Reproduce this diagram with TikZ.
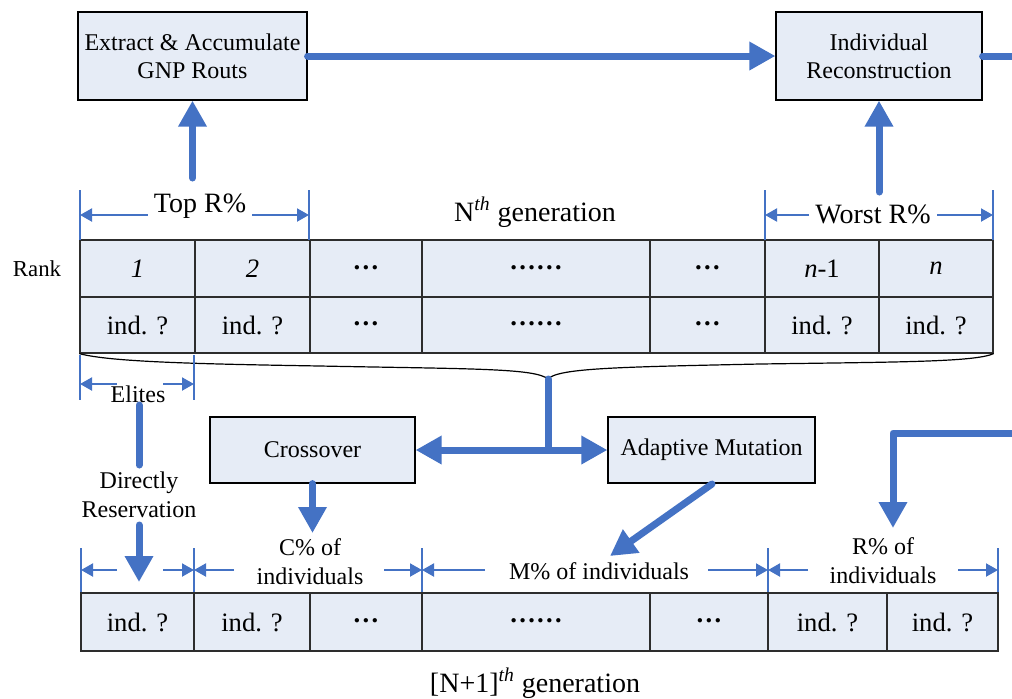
\documentclass[tikz,border=0pt]{standalone}
\usepackage{fontspec}
\setmainfont{Liberation Serif}
\usetikzlibrary{arrows.meta}
\definecolor{flowblue}{RGB}{68,114,196}
\definecolor{cellfill}{RGB}{230,236,246}
\definecolor{gridline}{RGB}{45,45,45}

% one table cell: name, x1, x2, y1, y2, content
\newcommand\tabcell[6]{%
  \node[cellbox, minimum width={(#3-#2)*0.5pt}, minimum height={(#5-#4)*0.5pt}]
    (#1) at ({(#2+#3)/2},{(#4+#5)/2}) {#6};}
% centred heavy dots
\newcommand\hdots[1]{\vphantom{d}\raisebox{0.31em}{\textbf{#1}}}

\begin{document}
\begin{tikzpicture}[x=0.5pt,y=-0.5pt,
  procbox/.style={draw=black, line width=0.6pt, fill=cellfill, inner sep=0pt,
    align=center, font=\fontsize{12}{14}\selectfont},
  cellbox/.style={draw=gridline, line width=0.6pt, fill=cellfill, inner sep=0pt,
    font=\fontsize{13.3}{15}\selectfont},
  bigflow/.style={draw=flowblue, line width=3.5pt, line cap=round, line join=round,
    -{Triangle[length=13pt,width=13.5pt]}},
  bigline/.style={draw=flowblue, line width=3.5pt, line cap=round},
  dimarrow/.style={draw=flowblue, line width=1pt, -{Triangle[length=6pt,width=6.5pt]}},
  dimtick/.style={draw=flowblue, line width=1pt},
  txtsmall/.style={inner sep=1pt, align=center, font=\fontsize{12}{14.5}\selectfont},
  txtbig/.style={inner sep=1pt, align=center, font=\fontsize{14}{16}\selectfont},
]
\useasboundingbox (0,0) rectangle (1012,698);

% ---------- process boxes ----------
\node[procbox, minimum width=114.5pt, minimum height=44pt] (extract) at (192.5,56)
  {Extract \& Accumulate\\GNP Routs};
\node[procbox, minimum width=103pt, minimum height=44pt] (recon) at (879,56)
  {Individual\\Reconstruction};
\node[procbox, minimum width=102.5pt, minimum height=33pt] (cross) at (312.5,450) {Crossover};
\node[procbox, minimum width=103.5pt, minimum height=33pt] (mutate) at (711.5,450) {Adaptive Mutation};

% ---------- N-th generation table ----------
\node[inner sep=1pt, font=\fontsize{11.4}{13}\selectfont, anchor=base] (rank) at (37,276) {Rank};
\tabcell{a1}{80}{195}{240}{297}{\textit{1}}
\tabcell{a2}{195}{310}{240}{297}{\textit{2}}
\tabcell{a3}{310}{422}{240}{297}{\hdots{…}}
\tabcell{a4}{422}{650}{240}{297}{\hdots{……}}
\tabcell{a5}{650}{765}{240}{297}{\hdots{…}}
\tabcell{a6}{765}{879}{240}{297}{\textit{n}-1}
\tabcell{a7}{879}{993}{240}{297}{\textit{n}}
\tabcell{b1}{80}{195}{297}{353}{ind. ?}
\tabcell{b2}{195}{310}{297}{353}{ind. ?}
\tabcell{b3}{310}{422}{297}{353}{\hdots{…}}
\tabcell{b4}{422}{650}{297}{353}{\hdots{……}}
\tabcell{b5}{650}{765}{297}{353}{\hdots{…}}
\tabcell{b6}{765}{879}{297}{353}{ind. ?}
\tabcell{b7}{879}{993}{297}{353}{ind. ?}

\node[txtbig, anchor=base] (gen) at (535,221) {N\textsuperscript{\textit{th}} generation};

% Top R% span
\coordinate (topL) at (80,215);
\coordinate (topR) at (309,215);
\draw[dimtick] (80,190) -- (80,240);
\draw[dimtick] (309,190) -- (309,240);
\node[txtbig, anchor=base, inner xsep=3pt] (toplbl) at (200,212) {Top R\%};
\draw[dimarrow] (toplbl.west |- topL) -- (topL);
\draw[dimarrow] (toplbl.east |- topR) -- (topR);

% Worst R% span
\coordinate (worL) at (765,215);
\coordinate (worR) at (993,215);
\draw[dimtick] (765,190) -- (765,240);
\draw[dimtick] (993,190) -- (993,240);
\node[txtbig, anchor=base, inner xsep=3pt] (worlbl) at (873,223) {Worst R\%};
\draw[dimarrow] (worlbl.west |- worL) -- (worL);
\draw[dimarrow] (worlbl.east |- worR) -- (worR);

% flows up to the top boxes
\coordinate (topStart) at (192.5,178);
\coordinate (worStart) at (879,192);
\draw[bigflow] (topStart) -- (extract.south);
\draw[bigflow] (worStart) -- (recon.south);
\draw[bigflow] (extract.east) -- (recon.west);
\coordinate (exitR) at (1020,56);
\draw[bigline] (recon.east) -- (exitR);

% brace under the whole generation
\coordinate (braceTip) at (548,379);
\draw[line width=0.6pt, black]
  (b1.south west) .. controls (110,362) and (200,364) .. (320,366)
  .. controls (470,369) and (535,368) .. (braceTip)
  .. controls (558,368) and (620,367) .. (760,364)
  .. controls (900,362) and (975,362) .. (b7.south east);

% split to crossover and mutation
\coordinate (split) at (548,450);
\draw[bigline] (braceTip) -- (split);
\draw[bigflow] (split) -- (cross.east);
\draw[bigflow] (split) -- (mutate.west);

% elites span
\coordinate (elL) at (80,384);
\coordinate (elR) at (194,384);
\coordinate (elLs) at (117,384);
\coordinate (elRs) at (163,384);
\draw[dimtick] (80,355) -- (80,400);
\draw[dimtick] (194,355) -- (194,400);
\draw[dimarrow] (elLs) -- (elL);
\draw[dimarrow] (elRs) -- (elR);
\node[txtsmall, anchor=base] (elites) at (138,402) {Elites};

% direct reservation of elites
\node[txtsmall] (direct) at (139,495) {Directly\\Reservation};
\coordinate (elDown) at (139,405);
\coordinate (elMid) at (139,465);
\coordinate (drStart) at (139,525);
\coordinate (drTip) at (139,582);
\draw[bigline] (elDown) -- (elMid);
\draw[bigflow] (drStart) -- (drTip);

% crossover and mutation outputs
\coordinate (cTip) at (312.5,533);
\coordinate (mStart) at (712,484);
\coordinate (mTip) at (610,556);
\draw[bigflow] (cross.south) -- (cTip);
\draw[bigflow] (mStart) -- (mTip);

% reconstructed individuals coming back
\coordinate (backIn) at (1020,433);
\coordinate (rTip) at (893,528);
\draw[bigflow] (backIn) -| (rTip);

% ---------- (N+1)-th generation spans ----------
\foreach \tx in {81,194,422,768,998} {\draw[dimtick] (\tx,548) -- (\tx,593);}
\coordinate (s1L) at (81,570);   \coordinate (s1Ls) at (117,570);
\coordinate (s1R) at (194,570);  \coordinate (s1Rs) at (163,570);
\coordinate (s2L) at (194,570);  \coordinate (s2Ls) at (234,570);
\coordinate (s2R) at (422,570);  \coordinate (s2Rs) at (384,570);
\coordinate (s3L) at (422,570);  \coordinate (s3Ls) at (485,570);
\coordinate (s3R) at (768,570);  \coordinate (s3Rs) at (708,570);
\coordinate (s4L) at (768,570);  \coordinate (s4Ls) at (808,570);
\coordinate (s4R) at (998,570);  \coordinate (s4Rs) at (958,570);
\foreach \s in {s1,s2,s3,s4} {
  \draw[dimarrow] (\s Ls) -- (\s L);
  \draw[dimarrow] (\s Rs) -- (\s R);
}
\node[txtsmall] (clbl) at (310,562) {C\% of\\individuals};
\node[txtsmall, anchor=base] (mlbl) at (599,579) {M\% of individuals};
\node[txtsmall] (rlbl) at (883,561) {R\% of\\individuals};

% ---------- (N+1)-th generation table ----------
\tabcell{c1}{81}{194}{593}{651}{ind. ?}
\tabcell{c2}{194}{310}{593}{651}{ind. ?}
\tabcell{c3}{310}{422}{593}{651}{\hdots{…}}
\tabcell{c4}{422}{650}{593}{651}{\hdots{……}}
\tabcell{c5}{650}{768}{593}{651}{\hdots{…}}
\tabcell{c6}{768}{887}{593}{651}{ind. ?}
\tabcell{c7}{887}{998}{593}{651}{ind. ?}

\node[txtbig, anchor=base] (nextgen) at (535,692) {[N+1]\textsuperscript{\textit{th}} generation};
\end{tikzpicture}
\end{document}
